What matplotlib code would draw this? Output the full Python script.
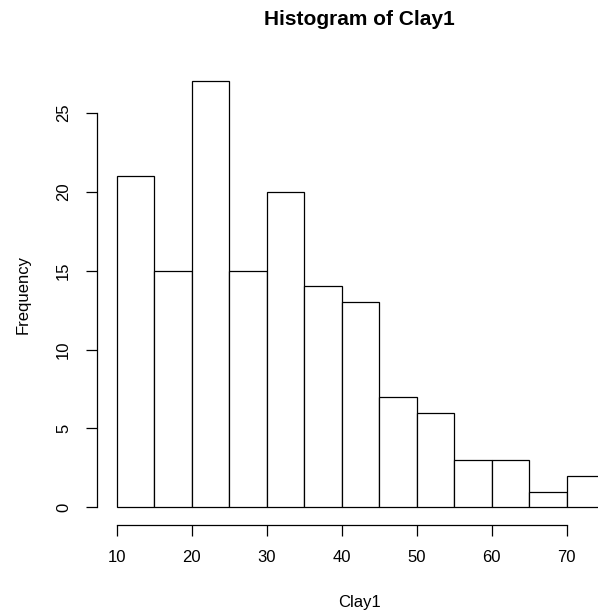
import matplotlib
matplotlib.use("Agg")
import matplotlib.pyplot as plt

bin_edges = [10, 15, 20, 25, 30, 35, 40, 45, 50, 55, 60, 65, 70, 75]
counts = [21, 15, 27, 15, 20, 14, 13, 7, 6, 3, 3, 1, 2]
x_ticks = [10, 20, 30, 40, 50, 60, 70]
y_ticks = [0, 5, 10, 15, 20, 25]

W, H = 598, 614
fig = plt.figure(figsize=(W / 100, H / 100), dpi=100)
plt.rcParams['font.family'] = ['Liberation Sans', 'DejaVu Sans']

left_px, right_px, top_px, bottom_px = 97, 598, 64.2, 525
ax = fig.add_axes([left_px / W, 1 - bottom_px / H, (right_px - left_px) / W, (bottom_px - top_px) / H])

# data -> pixel: x=10 at 116.7, 7.5 px/unit ; y=0 at 507.3, 15.78 px/unit
xl = 10 - (116.7 - left_px) / 7.5
xr = 10 + (right_px - 116.7) / 7.5
yb = -(bottom_px - 507.3) / 15.78
yt = (507.3 - top_px) / 15.78
ax.set_xlim(xl, xr)
ax.set_ylim(yb, yt)

widths = [bin_edges[i + 1] - bin_edges[i] for i in range(len(counts))]
ax.bar(bin_edges[:-1], counts, width=widths, align='edge', color='white',
       edgecolor='black', linewidth=0.9)

for s in ['top', 'right']:
    ax.spines[s].set_visible(False)
ax.spines['bottom'].set_bounds(x_ticks[0], x_ticks[-1])
ax.spines['left'].set_bounds(y_ticks[0], y_ticks[-1])
for s in ['bottom', 'left']:
    ax.spines[s].set_linewidth(0.9)
ax.set_xticks(x_ticks)
ax.set_yticks(y_ticks)
ax.set_yticklabels([str(v) for v in y_ticks], rotation=90, va='center')
ax.tick_params(axis='both', length=7.7, width=0.9, labelsize=12)
ax.tick_params(axis='x', pad=10)
ax.tick_params(axis='y', pad=11)

fig.text(359.5 / W, 1 - 19.5 / H, 'Histogram of Clay1', ha='center', va='center',
         fontsize=15, fontweight='bold')
fig.text(359.5 / W, 1 - 602.5 / H, 'Clay1', ha='center', va='center', fontsize=12)
fig.text(23 / W, 1 - 294.6 / H, 'Frequency', ha='center', va='center', fontsize=12,
         rotation=90)

fig.savefig('out.png', dpi=100)
